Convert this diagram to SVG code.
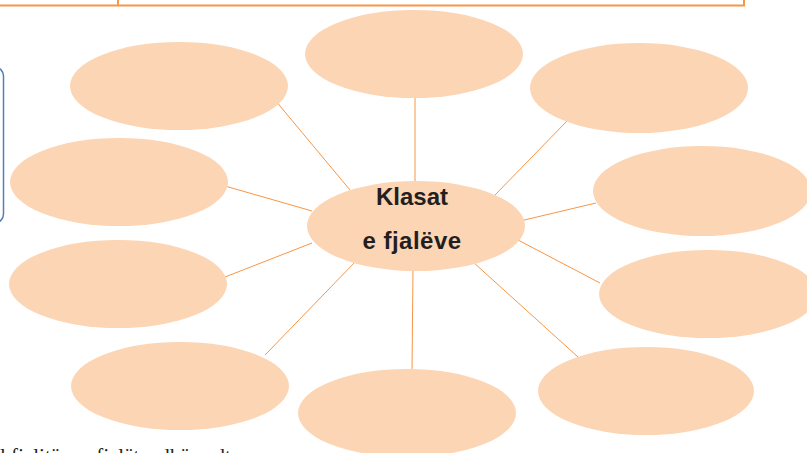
<svg xmlns="http://www.w3.org/2000/svg" width="807" height="453" viewBox="0 0 807 453">
<style>
.b{fill:#FCD5B4;stroke:none}
.c line{stroke:#F79646;stroke-width:1}
.t{font-family:"Liberation Sans",Arial,sans-serif;font-weight:bold;font-size:24px;fill:#231F20;text-anchor:middle}
</style>
<rect width="807" height="453" fill="#fff"/>
<g id="table">
<path d="M0 5.5H744V0M118 0V5.5" fill="none" stroke="#F79646" stroke-width="2"/>
</g>
<rect id="sidebox" x="-20" y="67" width="23.5" height="156" rx="9" fill="none" stroke="#4F81BD" stroke-width="1.5"/>
<g id="connectors" class="c">
<line x1="415" y1="95" x2="415" y2="185"/>
<line x1="275" y1="100" x2="350" y2="190"/>
<line x1="567" y1="121" x2="495" y2="195"/>
<line x1="225" y1="186" x2="312" y2="211"/>
<line x1="596" y1="203" x2="520" y2="221"/>
<line x1="225" y1="277" x2="312" y2="243"/>
<line x1="600" y1="283" x2="518" y2="240"/>
<line x1="265" y1="355" x2="357" y2="260"/>
<line x1="412" y1="370" x2="413" y2="268"/>
<line x1="578" y1="357" x2="473" y2="262"/>
</g>
<g id="n-top"><ellipse class="b" cx="414" cy="54" rx="109" ry="44"/></g>
<g id="n-topleft"><ellipse class="b" cx="179" cy="86" rx="109" ry="44"/></g>
<g id="n-topright"><ellipse class="b" cx="639" cy="88" rx="109" ry="45"/></g>
<g id="n-left2"><ellipse class="b" cx="119" cy="182" rx="109" ry="44"/></g>
<g id="n-right2"><ellipse class="b" cx="702" cy="191" rx="109" ry="45"/></g>
<g id="n-left3"><ellipse class="b" cx="118" cy="284" rx="109" ry="44"/></g>
<g id="n-right3"><ellipse class="b" cx="708" cy="294" rx="109" ry="44"/></g>
<g id="n-bottomleft"><ellipse class="b" cx="180" cy="386" rx="109" ry="44"/></g>
<g id="n-bottom"><ellipse class="b" cx="407" cy="413" rx="109" ry="44"/></g>
<g id="n-bottomright"><ellipse class="b" cx="646" cy="391" rx="108" ry="44"/></g>
<g id="n-center">
<ellipse class="b" cx="416" cy="226" rx="109" ry="45"/>
<text class="t" x="412" y="205">Klasat</text>
<text class="t" x="412" y="249" letter-spacing="0.5">e fjalëve</text>
</g>
<text x="0" y="463" font-family="Liberation Serif,'Times New Roman',serif" font-size="21" fill="#231F20">l fjalitë me fjalët e dhëna dt</text>
</svg>
